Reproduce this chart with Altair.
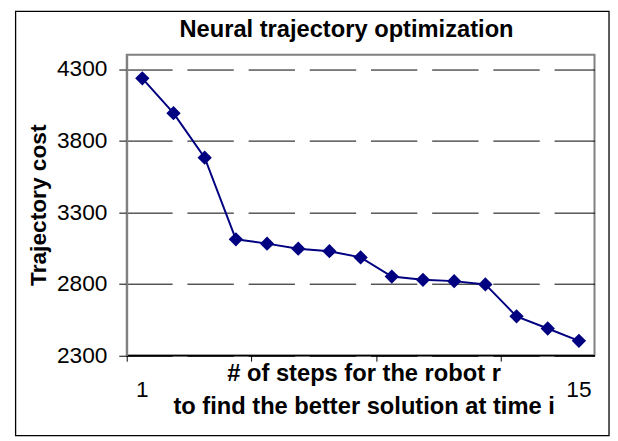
import altair as alt
import pandas as pd

steps = list(range(1, 16))
cost = [4235, 3992, 3681, 3110, 3080, 3045, 3027, 2984, 2850, 2827, 2818, 2795, 2572, 2487, 2401]
y_ticks = [2300, 2800, 3300, 3800, 4300]
x_tick_marks = [0.5, 4.5, 8.5, 12.5]
x_label_pos = [1, 15]
x_labels = ["1", "15"]
title_text = "Neural trajectory optimization"
y_title = "Trajectory cost"
x_title = ["# of steps for the robot r", "to find the better solution at time i"]

df = pd.DataFrame({"step": steps, "cost": cost})
lab = pd.DataFrame({"step": x_label_pos, "txt": x_labels})
one = pd.DataFrame({"a": [0]})

FONT = "Liberation Sans"
NAVY = "#000080"
W, H = 474, 304.5

xs = alt.Scale(domain=[0.5, 15.5], nice=False, zero=False)
ys = alt.Scale(domain=[2300, 4400], nice=False, zero=False)

x_enc = alt.X("step:Q", scale=xs, axis=alt.Axis(
    values=x_tick_marks, labels=False, title=None, tickSize=6,
    tickColor="black", domainColor="black", domainWidth=1.3, grid=False))
y_enc = alt.Y("cost:Q", scale=ys, axis=alt.Axis(
    values=y_ticks, format="d", title=None, tickSize=8, tickColor="black", tickWidth=1,
    labelFontSize=23, labelFont=FONT, labelColor="black", labelPadding=12,
    domainColor="#808080", domainWidth=2, grid=True, gridColor="black",
    gridDash=[47, 15], gridDashOffset=1, gridWidth=1))

base = alt.Chart(df)
line = base.mark_line(color=NAVY, strokeWidth=2).encode(x=x_enc, y=y_enc)
pts = base.mark_point(shape="diamond", filled=True, size=210, color=NAVY, opacity=1).encode(
    x="step:Q", y="cost:Q")

xlab = alt.Chart(lab).mark_text(fontSize=23, font=FONT, color="black", baseline="alphabetic", align="center").encode(
    x=alt.X("step:Q", scale=xs), y=alt.value(346.5), text="txt:N")

def txt(t, x, y, size=24, angle=0):
    return alt.Chart(one).mark_text(text=t, fontSize=size, font=FONT, fontWeight="bold", color="black",
                                    baseline="alphabetic", align="center", angle=angle).encode(
        x=alt.value(x), y=alt.value(y))

title = txt(title_text, 222.7, -17.5)
ytitle = txt(y_title, -81.6, 152.5, size=23, angle=270)
xt1 = txt(x_title[0], 240.5, 331)
xt2 = txt(x_title[1], 240.5, 363.8)

border = alt.Chart(one).mark_rect(fillOpacity=0, stroke="black", strokeWidth=1.3).encode(
    x=alt.value(-112.6), x2=alt.value(488.7), y=alt.value(-44), y2=alt.value(386))

chart = alt.layer(border, line, pts, xlab, title, ytitle, xt1, xt2).properties(
    width=W, height=H,
    autosize=alt.AutoSizeParams(type="none"),
    padding={"left": 120.3, "top": 44.5, "right": 15.7, "bottom": 83},
    background="white",
).configure_view(stroke="#808080", strokeWidth=2)

chart.save("out.html", embed_options={"renderer": "svg", "actions": False})
